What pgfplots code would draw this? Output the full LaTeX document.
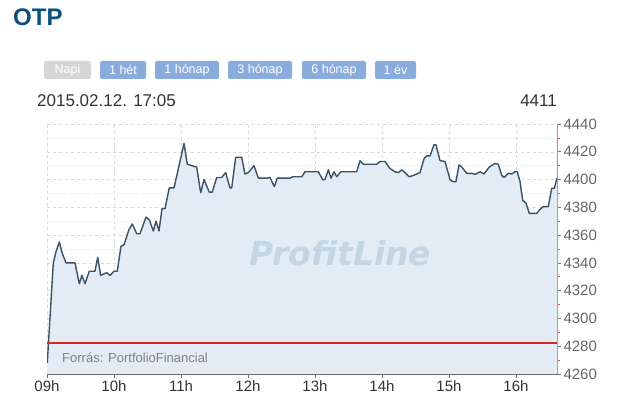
\documentclass[border=0pt]{standalone}
\usepackage{pgfplots}
\pgfplotsset{compat=1.18}
\usepackage{pgfplotstable}
\usepackage{fontspec}
\setmainfont{Liberation Sans}
\newfontfamily\wmfont{DejaVu Sans}
\definecolor{titleblue}{HTML}{0B4F7C}
\definecolor{btnblue}{HTML}{8AACDC}
\definecolor{btngray}{HTML}{D6D6D6}
\definecolor{linecol}{HTML}{3A5266}
\definecolor{fillcol}{HTML}{E3ECF4}
\definecolor{wmcol}{HTML}{C4D5E3}
\definecolor{gridcol}{HTML}{D8D8D8}
\definecolor{refred}{RGB}{215,40,40}
\pgfplotstableread{
h v
9.004 4268
9.094 4340
9.134 4348
9.184 4355
9.234 4346
9.284 4340
9.418 4340
9.482 4325
9.522 4331
9.567 4325
9.631 4334
9.716 4334
9.757 4344
9.801 4331
9.891 4333
9.940 4331
10.000 4334
10.049 4334
10.104 4352
10.149 4353
10.224 4364
10.273 4368
10.339 4361
10.388 4361
10.478 4373
10.527 4371
10.587 4363
10.627 4370
10.672 4363
10.716 4379
10.761 4379
10.825 4394
10.896 4394
11.045 4426
11.094 4411
11.234 4409
11.294 4390.5
11.343 4400
11.422 4391
11.467 4391
11.533 4401.5
11.607 4401.5
11.667 4405
11.731 4394
11.757 4394
11.816 4416
11.906 4416
11.955 4404
12.004 4405
12.090 4410
12.154 4401
12.279 4401
12.328 4401.5
12.393 4395
12.437 4401
12.627 4401
12.667 4402
12.801 4402
12.851 4405.6
13.049 4405.6
13.115 4400
13.149 4400
13.199 4407
13.239 4401
13.284 4405.6
13.324 4402
13.384 4405.6
13.622 4405.6
13.672 4413.6
13.721 4411
13.921 4411
13.970 4413
14.045 4413
14.119 4408
14.194 4405.6
14.243 4405
14.294 4407
14.343 4405
14.407 4402
14.467 4403
14.518 4404
14.567 4405
14.627 4415
14.667 4417
14.716 4417
14.776 4425
14.806 4425
14.866 4413.6
14.940 4413
15.015 4400
15.055 4398.5
15.104 4398.5
15.149 4410.5
15.190 4409
15.264 4404.5
15.339 4404.5
15.388 4403.7
15.463 4405.6
15.522 4404
15.601 4409
15.687 4411.6
15.736 4411
15.787 4403
15.821 4401.5
15.885 4404.5
15.936 4404
15.985 4405.6
16.019 4405.6
16.060 4398.5
16.100 4385
16.149 4383
16.199 4375.6
16.258 4375.6
16.309 4375.6
16.358 4378.6
16.407 4380.5
16.482 4380.5
16.533 4393.7
16.572 4393.7
16.612 4401
}\price
\pgfplotstableread{
h v
9 4282
16.612 4282
}\prevclose
\begin{document}
\begin{tikzpicture}
\useasboundingbox (0,0) rectangle (617pt,418pt);
% header
\node[anchor=west, text=titleblue, font=\bfseries\fontsize{24}{26}\selectfont, inner sep=0pt] at (13pt,400.5pt) {OTP};
\tikzset{btn/.style={rounded corners=2pt, minimum height=18pt, inner sep=0pt, text=white, font=\fontsize{12.5}{13}\selectfont}}
\node[btn, fill=btngray, minimum width=47pt] at (67.5pt,348pt) {Napi};
\node[btn, fill=btnblue, minimum width=46pt] at (123pt,348pt) {1 hét};
\node[btn, fill=btnblue, minimum width=64pt] at (187pt,348pt) {1 hónap};
\node[btn, fill=btnblue, minimum width=64pt] at (260pt,348pt) {3 hónap};
\node[btn, fill=btnblue, minimum width=64pt] at (334pt,348pt) {6 hónap};
\node[btn, fill=btnblue, minimum width=41pt] at (395.5pt,348pt) {1 év};
\node[anchor=west, inner sep=0pt, text=black!80, font=\fontsize{17}{19}\selectfont] at (37pt,317pt) {2015.02.12. 17:05};
\node[anchor=east, inner sep=0pt, text=black!80, font=\fontsize{17}{19}\selectfont] at (557pt,317pt) {4411};
\begin{axis}[
  at={(47pt,44pt)}, anchor=south west,
  scale only axis, width=510pt, height=250pt,
  xmin=9, xmax=16.612, ymin=4260, ymax=4440,
  axis x line*=bottom, axis y line*=right,
  x axis line style={draw=black!65, line width=0.9pt, -},
  y axis line style={draw=black!40, line width=0.9pt, -},
  xtick={9,10,11,12,13,14,15,16},
  xticklabels={09h,10h,11h,12h,13h,14h,15h,16h},
  ytick={4260,4280,4300,4320,4340,4360,4380,4400,4420,4440},
  minor y tick num=1,
  tick align=outside,
  major tick length=4pt, minor tick length=3pt,
  every major tick/.style={draw=black!55, line width=0.6pt},
  every minor tick/.style={draw=refred!80, line width=0.6pt},
  x tick label style={font=\fontsize{15}{16}\selectfont, text=black!80, yshift=1pt},
  y tick label style={font=\fontsize{15}{16}\selectfont, text=black!60, xshift=-1pt},
  /pgf/number format/assume math mode=true,
  /pgf/number format/1000 sep={},
  grid=both,
  major grid style={draw=gridcol, dashed, line width=0.5pt},
  minor grid style={draw=gridcol!60, dotted, line width=0.5pt},
  clip=true,
]
\addplot[draw=none, fill=fillcol] table[x=h,y=v]{\price} \closedcycle;
\addplot[draw=linecol, line width=1.4pt, line join=round] table[x=h,y=v]{\price};
\addplot[draw=refred, line width=2pt] table[x=h,y=v]{\prevclose};
\end{axis}
\node[anchor=base west, inner sep=0pt, text=wmcol, font=\wmfont\bfseries\itshape\fontsize{33}{35}\selectfont] at (249pt,153pt) {ProfitLine};
\node[anchor=west, inner sep=0pt, text=black!50, font=\fontsize{13}{14}\selectfont] at (62pt,60pt) {Forrás: PortfolioFinancial};
\end{tikzpicture}
\end{document}
